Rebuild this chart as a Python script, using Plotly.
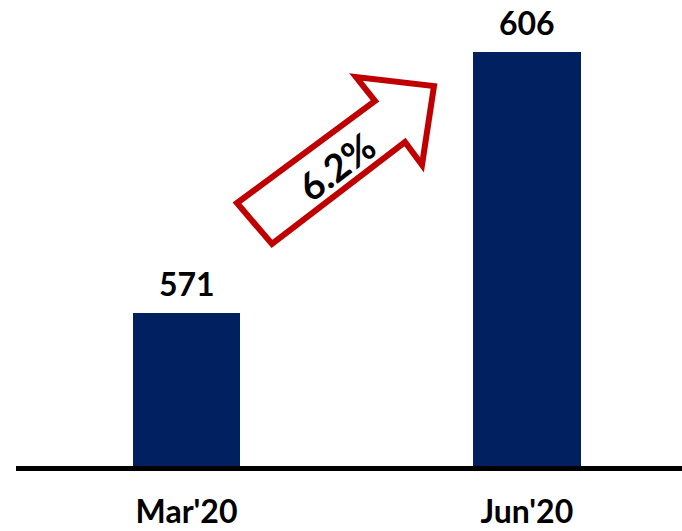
import plotly.graph_objects as go

# Quarterly values
categories = ["Mar'20", "Jun'20"]
values = [571, 606]
growth_label = "6.2%"

BAR_COLOR = "#002060"
ARROW_RED = "#C00000"
FONT = "Lato"

W, H = 682, 531
M_L, M_R, M_T, M_B = 16, 0, 0, 65
PLOT_W = W - M_L - M_R
PLOT_H = H - M_T - M_B


def px(x, y):
    """Pixel position on the page -> paper coordinates of the plot area."""
    return (x - M_L) / PLOT_W, (H - M_B - y) / PLOT_H


fig = go.Figure()
fig.add_trace(go.Bar(
    x=categories,
    y=values,
    width=0.316,
    marker=dict(color=BAR_COLOR, line=dict(width=0)),
    hoverinfo="skip",
))

# Value labels above the bars
for cat, val in zip(categories, values):
    fig.add_annotation(
        x=cat, y=val, text=f"<b>{val}</b>", showarrow=False,
        xanchor="center", yanchor="bottom", yshift=8,
        font=dict(family=FONT, size=32, color="black"),
    )

# Growth arrow (block arrow outline)
arrow_px = [(237, 203), (375, 101), (356, 77), (434, 86),
            (422, 165), (405, 142), (272, 244)]
pts = [px(x, y) for x, y in arrow_px]
path = "M " + " L ".join(f"{a:.5f},{b:.5f}" for a, b in pts) + " Z"
fig.add_shape(
    type="path", xref="paper", yref="paper", path=path,
    fillcolor="white", line=dict(color=ARROW_RED, width=6),
    layer="above",
)
tx, ty = px(336, 166)
fig.add_annotation(
    xref="paper", yref="paper", x=tx, y=ty, text=f"<b>{growth_label}</b>",
    showarrow=False, textangle=-37, xanchor="center", yanchor="middle",
    font=dict(family=FONT, size=38, color="black"),
)

fig.update_layout(
    width=W, height=H, autosize=False,
    margin=dict(l=M_L, r=M_R, t=M_T, b=M_B, pad=0, autoexpand=False),
    paper_bgcolor="white", plot_bgcolor="white",
    showlegend=False,
    bargap=0,
    xaxis=dict(
        type="category",
        range=[-0.501, 1.456],
        automargin=False,
        showline=True, linecolor="black", linewidth=5,
        ticks="", showgrid=False, zeroline=False,
        tickfont=dict(family=FONT, size=32, color="black"),
        ticklabelstandoff=14,
        tickprefix="<b>", ticksuffix="</b>",
    ),
    yaxis=dict(
        range=[550.48, 612.97],
        visible=False, showgrid=False, zeroline=False,
    ),
)

fig.write_html("out.html")
